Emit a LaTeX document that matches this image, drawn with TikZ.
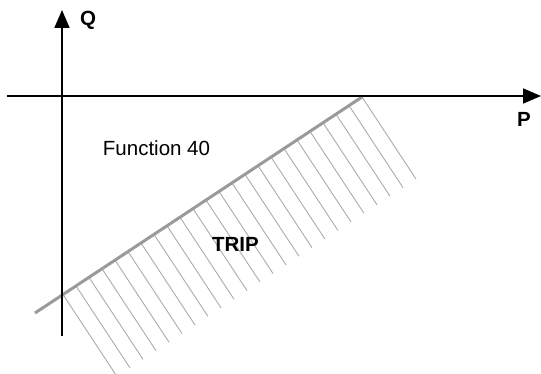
\documentclass[tikz,border=0pt]{standalone}
\usepackage{fontspec}
\setmainfont{Liberation Sans}
\usetikzlibrary{arrows.meta,calc}
\definecolor{bound}{HTML}{9A9A9A}
\definecolor{hatch}{HTML}{ABABAB}
\tikzset{
  axis/.style={line width=1.8pt, black, -{Triangle[length=18pt,width=15pt]}},
  boundary/.style={line width=3pt, bound},
  hatchline/.style={line width=0.9pt, hatch},
  lbl/.style={inner sep=0pt, font=\fontsize{20.5}{24}\selectfont},
  boldlbl/.style={lbl, font=\fontsize{20.5}{24}\selectfont\bfseries}
}
\begin{document}
\begin{tikzpicture}[x=1pt,y=-1pt]
\useasboundingbox (0,0) rectangle (541,374);
\coordinate (ybot) at (62,336);
\coordinate (ytop) at (62,10);
\coordinate (xleft) at (7,96);
\coordinate (xright) at (541,96);
\coordinate (la) at (35,313);
\coordinate (lb) at (362,97);
\begin{scope}
\clip (0,0) rectangle (541,374);
\foreach \i in {0,...,23} {
  \pgfmathsetmacro{\sx}{362-13*\i}
  \pgfmathsetmacro{\sy}{97+(362-\sx)*0.6606}
  \draw[hatchline] (\sx,\sy) -- ++(54,82);
}
\end{scope}
\draw[boundary] (la) -- (lb);
\draw[axis] (ybot) -- (ytop);
\draw[axis] (xleft) -- (xright);
\node[boldlbl] (q) at (88,20) {Q};
\node[boldlbl] (p) at (524,119) {P};
\node[lbl] (f) at (156.5,148) {Function 40};
\node[boldlbl] (trip) at (235.5,244.5) {TRIP};
\end{tikzpicture}
\end{document}
